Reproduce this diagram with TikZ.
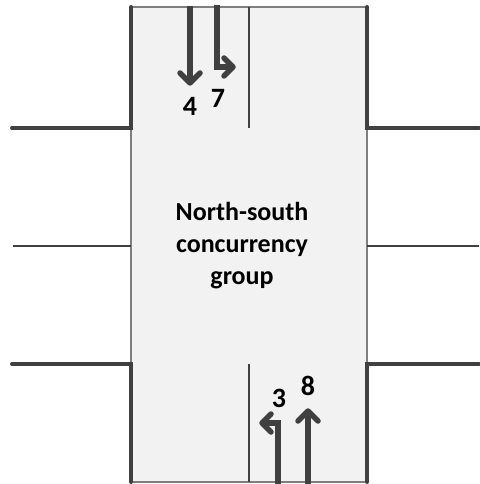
\documentclass[tikz,border=0pt]{standalone}
\usepackage{fontspec}
\setmainfont{Carlito}
\definecolor{wall}{HTML}{404040}
\definecolor{boxfill}{HTML}{F2F2F2}
\definecolor{boxedge}{HTML}{7F7F7F}
\tikzset{
  wallline/.style={draw=wall, line width=4pt, line cap=round, line join=miter},
  midline/.style={draw=wall, line width=1.8pt},
  edgeline/.style={draw=boxedge, line width=1.3pt},
  flow/.style={draw=wall, line width=6pt, line join=miter},
  barb/.style={draw=wall, line width=5.5pt, line join=round, line cap=round},
  lbl/.style={font=\fontsize{28}{30}\selectfont\bfseries, text=black, inner sep=0pt},
  title/.style={font=\fontsize{26}{32}\selectfont\bfseries, align=center, text=black, inner sep=0pt}
}
\begin{document}
\begin{tikzpicture}[x=1pt,y=-1pt]
\useasboundingbox (0,0) rectangle (479,484);
% box
\fill[boxfill] (131,7) rectangle (367,482);
\draw[edgeline] (131,7) -- (367,7);
\draw[edgeline] (131,482) -- (367,482);
\draw[edgeline] (131,128) -- (131,364);
\draw[edgeline] (367,128) -- (367,364);
% centre divider stubs
\draw[midline] (249,7) -- (249,128);
\draw[midline] (249,364) -- (249,482);
% walls
\draw[wallline] (131,7) -- (131,128) -- (12,128);
\draw[wallline] (367,7) -- (367,128) -- (479,128);
\draw[wallline] (131,482) -- (131,364) -- (12,364);
\draw[wallline] (367,482) -- (367,364) -- (479,364);
\draw[midline] (13,246) -- (131,246);
\draw[midline] (367,246) -- (479,246);
% coordinates for flows
\coordinate (a4s) at (190,6);
\coordinate (a4e) at (190,83);
\coordinate (a7s) at (217,5);
\coordinate (a7m) at (217,67);
\coordinate (a7e) at (233,67);
\coordinate (a3s) at (278,484);
\coordinate (a3m) at (278,423);
\coordinate (a3e) at (262,423);
\coordinate (a8s) at (308,484);
\coordinate (a8e) at (308,411);
\draw[flow] (a4s) -- (a4e);
\draw[barb] ([shift={(-10,-10)}]a4e) -- (a4e) -- ([shift={(10,-10)}]a4e);
\draw[flow] (a7s) -- (a7m) -- (a7e);
\draw[barb] ([shift={(-9,-9)}]a7e) -- (a7e) -- ([shift={(-9,9)}]a7e);
\draw[flow] (a3s) -- (a3m) -- (a3e);
\draw[barb] ([shift={(9,-9)}]a3e) -- (a3e) -- ([shift={(9,9)}]a3e);
\draw[flow] (a8s) -- (a8e);
\draw[barb] ([shift={(-10,10)}]a8e) -- (a8e) -- ([shift={(10,10)}]a8e);
% labels
\node[lbl] (l4) at (190,106) {4};
\node[lbl] (l7) at (218,98) {7};
\node[lbl] (l3) at (279,398) {3};
\node[lbl] (l8) at (308,386) {8};
\node[title] (t) at (242,246) {North-south\\concurrency\\group};
\end{tikzpicture}
\end{document}
